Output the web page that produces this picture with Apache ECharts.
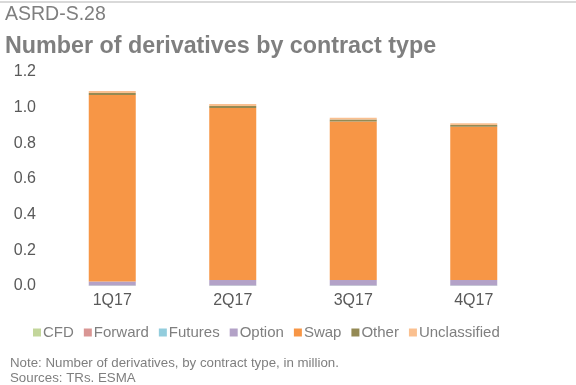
<!DOCTYPE html>
<html>
<head>
<meta charset="utf-8">
<script src="https://cdn.jsdelivr.net/npm/echarts@6/dist/echarts.min.js"></script>
<style>
html,body{margin:0;padding:0;background:#fff;}
#c{width:576px;height:385px;}
</style>
</head>
<body>
<div id="c"></div>
<script>
const categories = ['1Q17', '2Q17', '3Q17', '4Q17'];
const seriesNames = ['CFD', 'Forward', 'Futures', 'Option', 'Swap', 'Other', 'Unclassified'];
const cfd = [0.001, 0.001, 0.001, 0.001];
const forward = [0.001, 0.001, 0.001, 0.001];
const futures = [0.001, 0.001, 0.001, 0.001];
const option = [0.022, 0.030, 0.030, 0.030];
const swap = [1.046, 0.965, 0.890, 0.860];
const other = [0.011, 0.011, 0.010, 0.010];
const unclassified = [0.011, 0.012, 0.010, 0.010];
const yTicks = [0, 0.2, 0.4, 0.6, 0.8, 1.0, 1.2];

const values = [cfd, forward, futures, option, swap, other, unclassified];
const colors = ['#c3d69b', '#d99694', '#93cddd', '#b3a2c7', '#f79646', '#948a54', '#fac090'];
const font = 'Liberation Sans, Arial, sans-serif';

const chart = echarts.init(document.getElementById('c'), null, {renderer: 'canvas'});
chart.setOption({
  animation: false,
  color: colors,
  graphic: [
    {type: 'rect', shape: {x: 0, y: 1, width: 576, height: 2}, style: {fill: '#d9d9d9'}},
    {type: 'text', left: 5, top: 5, style: {text: 'ASRD-S.28', font: '19.5px ' + font, fill: '#7f7f7f'}},
    {type: 'text', left: 5, top: 35, style: {text: 'Number of derivatives by contract type', font: 'bold 23.3px ' + font, fill: '#7f7f7f'}},
    {type: 'text', left: 10, top: 357, style: {text: 'Note: Number of derivatives, by contract type, in million.', font: '13.3px ' + font, fill: '#7f7f7f'}},
    {type: 'text', left: 10, top: 372, style: {text: 'Sources: TRs. ESMA', font: '13.3px ' + font, fill: '#7f7f7f'}}
  ],
  legend: {
    data: seriesNames,
    left: 28,
    top: 320,
    itemWidth: 8,
    itemHeight: 8,
    itemGap: 10,
    icon: 'rect',
    textStyle: {fontFamily: font, fontSize: 15, color: '#7f7f7f', padding: [0, 0, 0, -3]}
  },
  grid: {left: 52, right: 42, top: 72, bottom: 99, containLabel: false},
  xAxis: {
    type: 'category',
    data: categories,
    axisLine: {show: false},
    axisTick: {show: false},
    axisLabel: {fontFamily: font, fontSize: 16, color: '#595959', margin: 7}
  },
  yAxis: {
    type: 'value',
    min: yTicks[0],
    max: yTicks[yTicks.length - 1],
    interval: 0.2,
    splitLine: {show: false},
    axisLine: {show: false},
    axisTick: {show: false},
    axisLabel: {fontFamily: font, fontSize: 16, color: '#595959', margin: 16, formatter: v => v.toFixed(1)}
  },
  series: seriesNames.map((n, i) => ({
    name: n,
    type: 'bar',
    stack: 'total',
    barWidth: 47,
    data: values[i],
    itemStyle: {color: colors[i]}
  }))
});
</script>
</body>
</html>
